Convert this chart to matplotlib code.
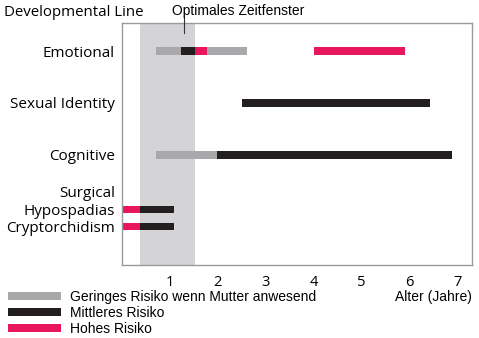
import matplotlib.pyplot as plt
from matplotlib.patches import Patch

# Entwicklungslinien (von oben nach unten)
rows = ["Emotional", "Sexual Identity", "Cognitive", "Hypospadias", "Cryptorchidism"]
row_y = [0, 1, 2, 3.05, 3.38]

# Risikoabschnitte: Zeile, Beginn, Ende (Jahre), Risikostufe
seg_row = [0, 0, 0, 0, 0, 1, 2, 2, 3, 3, 4, 4]
seg_start = [0.70, 1.24, 1.52, 1.77, 4.00, 2.51, 0.70, 1.98, 0.00, 0.37, 0.00, 0.37]
seg_end = [1.24, 1.52, 1.77, 2.60, 5.90, 6.42, 1.98, 6.88, 0.37, 1.08, 0.37, 1.08]
seg_risk = ["low", "mid", "high", "low", "high", "mid", "low", "mid", "high", "mid", "high", "mid"]

# optimales Zeitfenster (Jahre)
window = (0.37, 1.52)
window_mark = 1.29

xticks = [1, 2, 3, 4, 5, 6, 7]

colors = {"low": "#a9a9ab", "mid": "#231f20", "high": "#e8175d"}
legend_labels = {
    "low": "Geringes Risiko wenn Mutter anwesend",
    "mid": "Mittleres Risiko",
    "high": "Hohes Risiko",
}

label_font = ["Open Sans", "DejaVu Sans"]
plain_font = ["Liberation Sans", "DejaVu Sans"]

fig = plt.figure(figsize=(4.79, 3.38), dpi=100)
ax = fig.add_axes([0.2547, 0.216, 0.7307, 0.716])

ax.axvspan(window[0], window[1], color="#d4d4d7", lw=0, zorder=0)

for r, s, e, k in zip(seg_row, seg_start, seg_end, seg_risk):
    ax.barh(row_y[r], e - s, left=s, height=0.15, color=colors[k], lw=0, zorder=2)

ax.set_xlim(0, 7.3)
ax.set_ylim(4.12, -0.54)

ax.set_yticks(row_y)
ax.set_yticklabels(rows, family=label_font, fontsize=11)
ax.set_xticks(xticks)
ax.set_xticklabels([str(t) for t in xticks], family=label_font, fontsize=10.5)
ax.tick_params(axis="x", length=0, pad=7)
ax.tick_params(axis="y", length=0, pad=5)

# zweizeiliges Label fuer Hypospadie
ax.annotate("Surgical", xy=(0, row_y[3]), xycoords=("axes fraction", "data"),
            xytext=(-5, 11.5), textcoords="offset points", ha="right", va="center",
            family=label_font, fontsize=11)

for sp in ax.spines.values():
    sp.set_color("#9a9a9a")
    sp.set_linewidth(1.0)

# Markierung fuer das optimale Zeitfenster
ax.plot([window_mark, window_mark], [-0.66, -0.35], color="#333333", lw=0.8,
        clip_on=False, zorder=3)
fig.text(172 / 479, 1 - 11 / 338, "Optimales Zeitfenster", ha="left", va="center",
         family=plain_font, fontsize=10)
fig.text(4 / 479, 1 - 12 / 338, "Developmental Line", ha="left", va="center",
         family=label_font, fontsize=10.8)

fig.text(472 / 479, 1 - 297 / 338, "Alter (Jahre)", ha="right", va="center",
         family=plain_font, fontsize=10)

handles = [Patch(facecolor=colors[k], edgecolor="none", label=legend_labels[k])
           for k in ["low", "mid", "high"]]
fig.legend(handles=handles, loc="upper left", bbox_to_anchor=(5 / 479, 1 - 287 / 338),
           frameon=False, prop={"family": plain_font, "size": 10},
           handlelength=3.8, handleheight=0.55, handletextpad=0.7,
           labelspacing=0.15, borderaxespad=0, borderpad=0.2)

fig.savefig("out.png", dpi=100, facecolor="white")
